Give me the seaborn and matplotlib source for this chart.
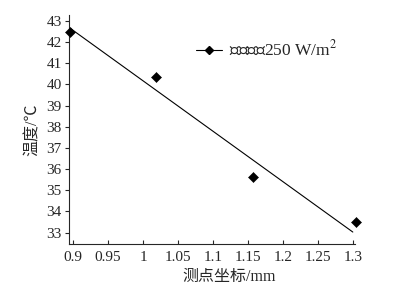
import matplotlib
matplotlib.use("Agg")
import matplotlib.pyplot as plt
import seaborn as sns
import pandas as pd

# measured points
pos = [0.895, 1.019, 1.158, 1.304]
temp = [42.48, 40.33, 35.61, 33.50]
# fitted trend line
fit_x = [0.896, 1.300]
fit_y = [42.64, 33.03]

x_ticks = [0.9, 0.95, 1.0, 1.05, 1.1, 1.15, 1.2, 1.25, 1.3]
x_tick_labels = ["0.9", "0.95", "1", "1.05", "1.1", "1.15", "1.2", "1.25", "1.3"]
y_ticks = list(range(33, 44))

sns.set_style("ticks")
plt.rcParams['font.family'] = ['Liberation Serif', 'Noto Sans CJK SC', 'DejaVu Sans']
plt.rcParams['mathtext.fontset'] = 'stix'

df = pd.DataFrame({"x": pos, "y": temp})
fit_df = pd.DataFrame({"x": fit_x, "y": fit_y})

fig = plt.figure(figsize=(4.2, 3.0), dpi=100)
ax = fig.add_axes([0.164, 0.187, 0.681, 0.763])

sns.lineplot(data=fit_df, x="x", y="y", ax=ax, color="black", linewidth=0.8)
sns.scatterplot(data=df, x="x", y="y", ax=ax, marker="D", s=26, color="black",
                edgecolor="black", zorder=3, clip_on=False)

ax.set_xlim(0.894, 1.303)
ax.set_ylim(32.47, 43.27)
ax.set_xticks(x_ticks)
ax.set_xticklabels(x_tick_labels)
ax.set_yticks(y_ticks)
ax.tick_params(axis="x", direction="in", length=3, width=0.8, labelsize=11, pad=5)
ax.tick_params(axis="y", direction="out", length=3, width=0.8, labelsize=11, pad=2)
for s in ["top", "right"]:
    ax.spines[s].set_visible(False)
for s in ["left", "bottom"]:
    ax.spines[s].set_linewidth(0.8)

ax.set_xlabel("测点坐标/mm", fontsize=11.5, labelpad=4)
ax.xaxis.set_label_coords(0.56, -0.11)
ax.set_ylabel("温度/℃", fontsize=11.5, labelpad=4)

# legend entry: line with diamond
h = ax.plot([], [], color="black", linewidth=0.8, marker="D", markersize=4)[0]
ax.legend([h], ["铺装功率250 W/m$^2$"], loc="center left",
          bbox_to_anchor=(0.444, 0.847), frameon=False, fontsize=12.5,
          borderaxespad=0, borderpad=0,
          handlelength=1.5, handletextpad=0.4)

fig.savefig("out.png", dpi=100)
